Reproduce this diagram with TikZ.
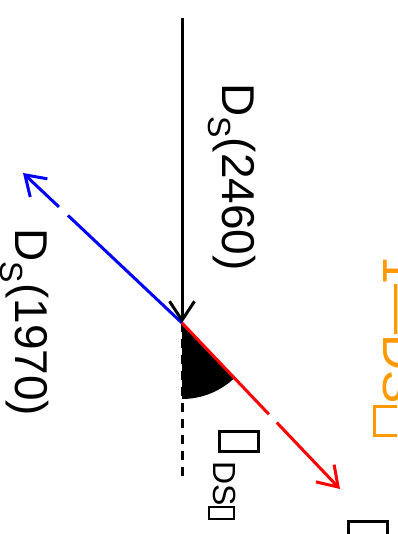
\documentclass[tikz,border=0pt]{standalone}
\usepackage{fontspec}
\setmainfont{Liberation Sans}
\usetikzlibrary{arrows.meta, calc}

\definecolor{lineOrange}{RGB}{255,153,0}
% 下标与缺字方框
\newcommand\lowtxt[1]{\raisebox{-14pt}{\fontsize{32}{36}\selectfont #1}}
\newcommand\tofubox[4]{\raisebox{#1}{\setlength\fboxsep{0pt}\setlength\fboxrule{#4}\fbox{\rule{0pt}{#2}\hspace*{#3}}}}

\begin{document}
\begin{tikzpicture}[x=1pt, y=-1pt, >={Straight Barb[length=19pt, width=25pt]},
    ray/.style={line width=3pt},
    lbl/.style={rotate=-90, anchor=base west, inner sep=0pt, font=\fontsize{46}{50}\selectfont}]
    \clip (0,0) rectangle (397,534);

    %% 坐标
    \coordinate (O) at (182,323);
    \coordinate (top) at (182,18);
    \coordinate (dashEnd) at (182,478);
    \coordinate (blueTip) at (23,173);
    \coordinate (redTip) at (340,489);
    \coordinate (blueGapA) at ($(O)!0.717!(blueTip)$);
    \coordinate (blueGapB) at ($(O)!0.774!(blueTip)$);
    \coordinate (redGapA) at ($(O)!0.55!(redTip)$);
    \coordinate (redGapB) at ($(O)!0.60!(redTip)$);

    % 夹角
    \fill (O) -- ++(90:76) arc[start angle=90, end angle=46.4, radius=76] -- cycle;
    \draw[ray, dash pattern=on 9pt off 7pt] (O) -- (dashEnd);

    % 蓝线
    \draw[ray, blue] (O) -- (blueGapA);
    \draw[ray, blue, ->] (blueGapB) -- (blueTip);

    % 红线
    \draw[ray, red] (O) -- (redGapA);
    \draw[ray, red, ->] (redGapB) -- (redTip);

    % 黑线
    \draw[ray, ->] (top) -- (O);

    %% 文字
    \node[lbl] (lblParent) at (222,83) {D\lowtxt{S}(2460)};
    \node[lbl] (lblChild) at (15,228.5) {D\lowtxt{S}(1970)};
    \node[lbl] (lblAngle) at (227,428) {\hspace{2pt}\tofubox{-6pt}{36pt}{17pt}{3pt}\hspace{8pt}\lowtxt{DS\tofubox{-3pt}{23pt}{10pt}{2pt}}};
    \node[lbl] (lblRed) at (356,518) {\hspace{2pt}\tofubox{-6pt}{36pt}{17pt}{3pt}};
    \node[lbl, lineOrange, font=\fontsize{50}{54}\selectfont] (lblOrange) at (383,256) {1—DS\hspace{2pt}\tofubox{-7pt}{36pt}{26pt}{3pt}};
\end{tikzpicture}
\end{document}
